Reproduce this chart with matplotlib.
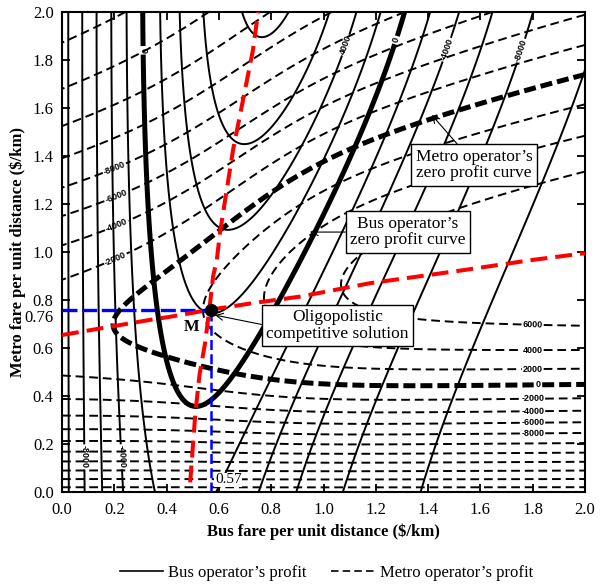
import numpy as np
import matplotlib.pyplot as plt
from matplotlib.lines import Line2D

plt.rcParams['font.family'] = ['Liberation Serif', 'DejaVu Serif']

# ---- values ----
# bus reaction curve (red, nearly vertical)
bus_react_x = [0.49, 0.51, 0.526, 0.547, 0.565, 0.578, 0.592, 0.604, 0.654, 0.73, 0.75]
bus_react_y = [0.04, 0.33, 0.49, 0.62, 0.775, 0.90, 0.967, 1.08, 1.425, 1.84, 2.0]
# metro reaction curve (red, nearly horizontal)
metro_react_x = [0.0, 0.336, 0.413, 0.57, 0.73, 0.91, 1.178, 1.52, 1.80, 2.0]
metro_react_y = [0.654, 0.717, 0.73, 0.76, 0.787, 0.814, 0.87, 0.922, 0.967, 0.995]

# profit model fitted to the contour crossings seen in the figure
# bus: share = 1 / (1 + exp(theta*u + tail*max(u - tail_start, 0)^2)), u = bus fare - x0
bus_demand, bus_cost = 39500, 10900
bus_theta = [4.4, 3.45]       # at metro fare 0 and 2
bus_x0_at = [0.0, 0.35, 0.76, 1.08, 1.45, 1.92, 2.0]      # metro fare
bus_x0 = [0.48, 0.549, 0.643, 0.733, 0.822, 0.912, 0.93]
bus_tail, bus_tail_start = 1.9, 0.6
# metro: share = 1 / (1 + exp(phi * (metro fare - y0))), phi and y0 vary with bus fare
metro_demand, metro_cost = 84000, 21200
metro_phi = [2.35, -0.56, 0.085]   # polynomial in bus fare
metro_y0_low, metro_y0_rise = 0.43, 0.18
metro_y0_mid, metro_y0_width = 0.68, 0.2

bus_levels = list(range(-10000, 8001, 2000))
metro_levels = list(range(-20000, 6001, 2000))

eq_x, eq_y = 0.57, 0.76

bus_label_pts = [(0.085, 0.146), (0.214, 0.146), (0.287, 1.84), (1.09, 1.86),
                 (1.285, 1.88), (1.453, 1.85), (1.725, 1.85)]
metro_label_pts = [(0.203, 1.342), (0.203, 1.24), (0.203, 1.125), (0.203, 0.975),
                   (1.80, 0.696), (1.80, 0.587), (1.80, 0.508), (1.82, 0.443),
                   (1.80, 0.383), (1.80, 0.33), (1.80, 0.287), (1.80, 0.242)]

# ---- profit surfaces ----
fare = np.linspace(0, 2, 501)
X, Y = np.meshgrid(fare, fare)

theta = np.interp(Y, [0, 2], bus_theta)
u = X - np.polyval(np.polyfit(bus_x0_at, bus_x0, 3), Y)
arg = theta * u + bus_tail * np.clip(u - bus_tail_start, 0, None) ** 2
bus_profit = bus_demand * X / (1 + np.exp(arg)) - bus_cost

phi = metro_phi[0] + metro_phi[1] * X + metro_phi[2] * X ** 2
y0 = metro_y0_low + metro_y0_rise / (1 + np.exp(-(X - metro_y0_mid) / metro_y0_width))
metro_profit = metro_demand * Y / (1 + np.exp(phi * (Y - y0))) - metro_cost

fig = plt.figure(figsize=(6.01, 5.85), dpi=100)
ax = fig.add_axes([0.1032, 0.159, 0.8702, 0.8205])
ax.set_xlim(0, 2)
ax.set_ylim(0, 2)

bw = [3.6 if v == 0 else 1.4 for v in bus_levels]
cs_b = ax.contour(X, Y, bus_profit, levels=bus_levels, colors='black',
                  linewidths=bw, linestyles='solid')
mw = [3.6 if v == 0 else 1.4 for v in metro_levels]
mls = [(0, (2.4, 1.0)) if v == 0 else (0, (4.5, 2.5)) for v in metro_levels]
cs_m = ax.contour(X, Y, metro_profit, levels=metro_levels, colors='black',
                  linewidths=mw, linestyles=mls)

labs = ax.clabel(cs_b, manual=bus_label_pts, inline=True, inline_spacing=2, fmt='%d', fontsize=6.5)
labs += ax.clabel(cs_m, manual=metro_label_pts, inline=True, inline_spacing=2, fmt='%d', fontsize=6.5)
for t in labs:
    t.set_fontweight('bold')
    t.set_fontfamily(['Liberation Sans', 'DejaVu Sans'])

# reaction curves and the equilibrium
ax.plot(bus_react_x, bus_react_y, color='red', lw=2.9, dashes=(4.2, 2.0), zorder=4)
ax.plot(metro_react_x, metro_react_y, color='red', lw=2.9, dashes=(4.2, 2.0), zorder=4)
ax.plot([0, eq_x], [eq_y, eq_y], color='blue', lw=2.4, dashes=(4.5, 1.4), zorder=3)
ax.plot([eq_x, eq_x], [0, eq_y], color='blue', lw=1.8, dashes=(4.0, 1.7), zorder=3)
ax.plot(eq_x, eq_y, 'o', color='black', ms=8.5, zorder=6)
ax.text(0.496, 0.689, 'M', fontsize=12, fontweight='bold', ha='center', va='center', zorder=6)
ax.text(0.585, 0.05, '0.57', fontsize=11, ha='left', va='center', zorder=6,
        bbox=dict(boxstyle='square,pad=0.05', fc='white', ec='none'))

box = dict(boxstyle='square,pad=0.25', fc='white', ec='black', lw=1.0)
ax.annotate('Metro operator\u2019s\nzero profit curve', xy=(1.414, 1.571), xytext=(1.576, 1.3625),
            ha='center', va='center', fontsize=12.5, linespacing=1.05, bbox=box, zorder=10,
            arrowprops=dict(arrowstyle='->', color='black', lw=0.8, shrinkA=0, shrinkB=0, relpos=(0.39, 1.0)))
ax.annotate('Bus operator\u2019s\nzero profit curve', xy=(0.948, 1.083), xytext=(1.323, 1.083),
            ha='center', va='center', fontsize=12.5, linespacing=1.05, bbox=box, zorder=10,
            arrowprops=dict(arrowstyle='->', color='black', lw=0.8, shrinkA=0, shrinkB=0, relpos=(0.0, 0.5)))
ax.annotate('Oligopolistic\ncompetitive solution', xy=(0.585, 0.737), xytext=(1.0535, 0.694),
            ha='center', va='center', fontsize=12.5, linespacing=1.05, bbox=box, zorder=10,
            arrowprops=dict(arrowstyle='->', color='black', lw=0.8, shrinkA=0, shrinkB=0, relpos=(0.0, 0.5)))

ticks = np.arange(0, 2.01, 0.2)
ax.set_xticks(ticks)
ax.set_yticks(ticks)
ax.set_xticklabels([f'{t:.1f}' for t in ticks])
ax.set_yticklabels([f'{t:.1f}' for t in ticks])
ax.tick_params(direction='in', length=6, width=1.3, top=True, right=True, labelsize=12)
ax.tick_params(axis='x', pad=7)
ax.tick_params(axis='y', pad=6)
for s in ax.spines.values():
    s.set_linewidth(1.5)
ax.text(-0.031, 0.727, '0.76', ha='right', va='center', fontsize=12, clip_on=False)

ax.set_xlabel('Bus fare per unit distance (\\$/km)', fontsize=12, fontweight='bold', labelpad=4)
ax.set_ylabel('Metro fare per unit distance (\\$/km)', fontsize=12, fontweight='bold', labelpad=5)

handles = [Line2D([], [], color='black', lw=1.2),
           Line2D([], [], color='black', lw=1.2, dashes=(4.5, 2.5))]
fig.legend(handles, ['Bus operator\u2019s profit', 'Metro operator\u2019s profit'],
           loc='center', bbox_to_anchor=(0.543, 0.021), ncol=2, frameon=False, fontsize=12,
           handlelength=2.6, handletextpad=0.3, columnspacing=1.5)

fig.savefig('out.png', dpi=100)
